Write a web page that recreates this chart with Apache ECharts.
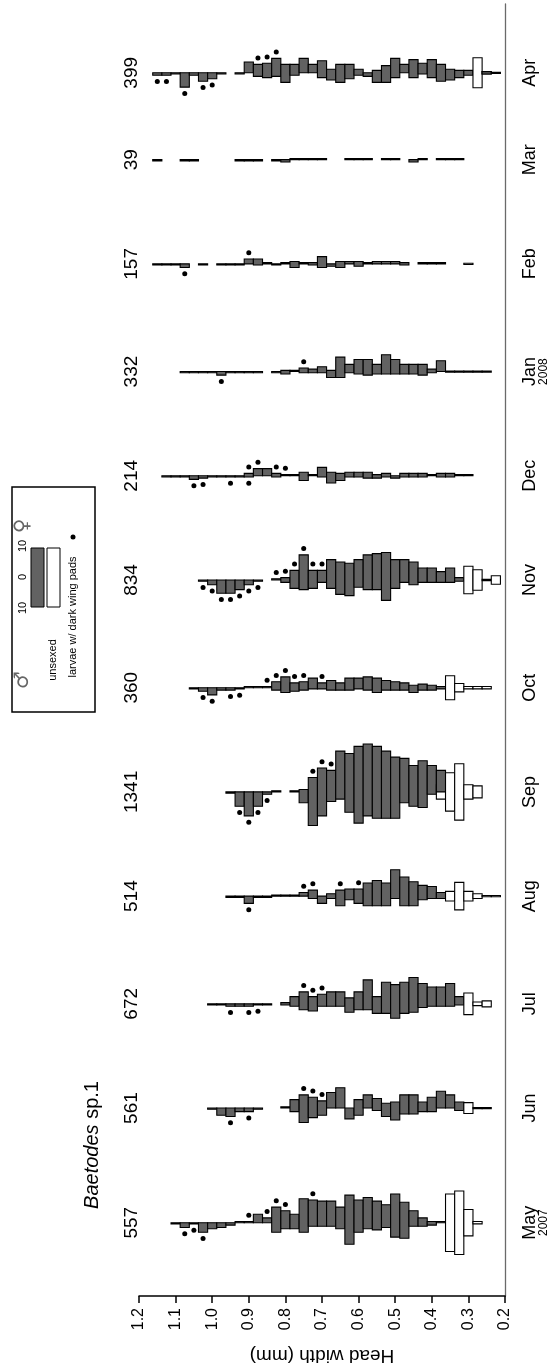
<!DOCTYPE html>
<html><head><meta charset="utf-8">
<script src="https://cdn.jsdelivr.net/npm/echarts@6/dist/echarts.min.js"></script>
<style>html,body{margin:0;padding:0;background:#fff}#c{width:552px;height:1370px}</style>
</head><body><div id="c"></div>
<script>
// ---------- DATA ----------
const months = ['May','Jun','Jul','Aug','Sep','Oct','Nov','Dec','Jan','Feb','Mar','Apr'];
const monthYears = ['2007','','','','','','','','2008','','',''];
const sampleDay = [0,33,63,94,124,154,185,215,245,276,306,331];
const sampleN = [557,561,672,514,1341,360,834,214,332,157,39,399];
const headWidthTicks = [1.2,1.1,1.0,0.9,0.8,0.7,0.6,0.5,0.4,0.3,0.2];
// bin centres (mm), 0.025 mm wide
const headWidthBins = [1.15,1.125,1.1,1.075,1.05,1.025,1.0,0.975,0.95,0.925,
  0.9,0.875,0.85,0.825,0.8,0.775,0.75,0.725,0.7,0.675,
  0.65,0.625,0.6,0.575,0.55,0.525,0.5,0.475,0.45,0.425,
  0.4,0.375,0.35,0.325,0.3,0.275,0.25,0.225];

const mayFemale  = [0,0,0,0,0,0,0,0,0,1, 1,7,4,13,10,7,20,19,18,18, 13,23,19,21,18,15,24,17,10,4, 1,1,0,0,0,0,0,0];
const mayMale    = [0,0,1,4,1,8,5,4,2,0, 0,0,0,8,5,5,8,3,3,3, 5,18,8,5,6,4,12,13,3,3, 2,0,0,0,0,0,0,0];
const mayUnsexed = [0,0,0,0,0,0,0,0,0,0, 0,0,0,0,0,0,0,0,0,0, 0,0,0,0,0,0,0,0,0,0, 0,0,48,53,22,2,0,0];
const mayDotsF = [0.9,0.85,0.825,0.8,0.725];
const mayDotsM = [1.075,1.05,1.025];

const junFemale  = [0,0,0,0,0,0,0,0,0,0, 0,0,0,0,1,7,11,9,6,13, 17,0,7,11,8,4,5,11,11,5, 9,14,11,5,0,0,0,0];
const junMale    = [0,0,0,0,0,0,1,6,7,3, 3,1,0,0,0,3,12,8,6,0, 0,9,6,0,2,7,10,5,5,3, 3,0,0,2,0,0,0,0];
const junUnsexed = [0,0,0,0,0,0,0,0,0,0, 0,0,0,0,0,0,0,0,0,0, 0,0,0,0,0,0,0,0,0,0, 0,0,0,0,9,1,1,0];
const junDotsF = [0.75,0.725,0.7];
const junDotsM = [0.95,0.9];

const julFemale  = [0,0,0,0,0,0,0,0,0,0, 0,0,0,0,1,6,10,6,8,10, 10,5,10,20,6,18,16,18,22,17, 14,14,17,6,0,0,0,0];
const julMale    = [0,0,0,0,0,0,1,1,2,2, 2,1,1,0,1,2,5,6,2,2, 2,7,5,5,8,8,12,8,7,3, 2,2,2,1,0,0,0,0];
const julUnsexed = [0,0,0,0,0,0,0,0,0,0, 0,0,0,0,0,0,0,0,0,0, 0,0,0,0,0,0,0,0,0,0, 0,0,0,0,18,3,5,0];
const julDotsF = [0.75,0.725,0.7];
const julDotsM = [0.95,0.9,0.875];

const augFemale  = [0,0,0,0,0,0,0,0,0,0, 0,0,0,1,1,1,3,5,0,2, 5,6,6,11,13,11,22,16,12,9, 8,3,0,0,0,0,0,0];
const augMale    = [0,0,0,0,0,0,0,0,1,1, 6,1,1,0,0,0,0,2,6,2, 8,3,6,8,8,8,2,8,8,3, 2,2,0,0,0,0,0,0];
const augUnsexed = [0,0,0,0,0,0,0,0,0,0, 0,0,0,0,0,0,0,0,0,0, 0,0,0,0,0,0,0,0,0,0, 0,0,8,23,8,4,1,1];
const augDotsF = [0.75,0.725,0.65,0.6];
const augDotsM = [0.9];

const sepFemale  = [0,0,0,0,0,0,0,0,0,0, 0,0,0,1,0,1,2,12,20,18, 34,32,38,40,38,34,29,28,22,26, 22,18,0,0,0,0,0,0];
const sepMale    = [0,0,0,0,0,0,0,0,1,12, 20,12,2,0,0,0,9,28,20,8, 6,17,26,20,22,22,22,9,12,13, 2,0,0,0,0,0,0,0];
const sepUnsexed = [0,0,0,0,0,0,0,0,0,0, 0,0,0,0,0,0,0,0,0,0, 0,0,0,0,0,0,0,0,0,0, 0,12,32,47,12,10,0,0];
const sepDotsF = [0.725,0.7,0.675];
const sepDotsM = [0.925,0.9,0.875,0.85];

const octFemale  = [0,0,0,0,0,0,0,0,0,0, 1,1,1,5,9,4,5,8,4,6, 4,8,8,9,8,6,5,4,2,3, 2,1,0,0,0,0,0,0];
const octMale    = [0,0,0,0,1,3,6,2,2,1, 0,0,0,2,4,3,2,1,1,2, 2,2,1,2,4,2,2,2,4,2, 2,1,0,0,0,0,0,0];
const octUnsexed = [0,0,0,0,0,0,0,0,0,0, 0,0,0,0,0,0,0,0,0,0, 0,0,0,0,0,0,0,0,0,0, 0,0,20,7,2,2,2,0];
const octDotsF = [0.85,0.825,0.8,0.775,0.75,0.7];
const octDotsM = [1.025,1.0,0.95,0.925];

const novFemale  = [0,0,0,0,0,0,0,0,0,0, 0,0,0,1,2,8,21,8,8,17, 15,14,17,21,22,23,17,17,15,10, 10,7,10,2,0,0,0,0];
const novMale    = [0,0,0,0,0,1,4,11,11,8, 4,1,0,0,2,7,8,7,2,7, 12,13,6,8,8,17,7,2,4,2, 2,2,2,1,0,0,0,0];
const novUnsexed = [0,0,0,0,0,0,0,0,0,0, 0,0,0,0,0,0,0,0,0,0, 0,0,0,0,0,0,0,0,0,0, 0,0,0,0,23,17,1,7];
const novDotsF = [0.825,0.8,0.775,0.75,0.725,0.7];
const novDotsM = [1.025,1.0,0.975,0.95,0.925,0.9,0.875];

const decFemale  = [0,0,0,0,0,0,0,0,0,0, 2,6,6,2,1,1,3,1,7,3, 2,3,3,3,1,2,0,2,2,2, 1,2,2,1,1,0,0,0];
const decMale    = [0,1,1,1,3,2,1,1,1,1, 1,0,0,1,0,0,4,0,1,6, 4,1,1,2,2,1,2,1,1,1, 0,1,1,0,0,0,0,0];
const decUnsexed = [0,0,0,0,0,0,0,0,0,0, 0,0,0,0,0,0,0,0,0,0, 0,0,0,0,0,0,0,0,0,0, 0,0,0,0,0,0,0,0];
const decDotsF = [0.9,0.875,0.825,0.8];
const decDotsM = [1.05,1.025,0.95,0.9];

const janFemale  = [0,0,0,0,0,0,0,0,0,0, 0,0,0,0,1,1,3,2,4,1, 12,6,10,10,6,14,10,6,6,6, 2,9,0,0,0,0,0,0];
const janMale    = [0,0,0,1,1,1,1,3,1,1, 1,1,0,1,2,0,1,1,1,5, 5,1,2,3,2,2,2,2,2,3, 1,0,0,0,0,0,0,0];
const janUnsexed = [0,0,0,0,0,0,0,0,0,0, 0,0,0,0,0,0,0,0,0,0, 0,0,0,0,0,0,0,0,0,0, 0,0,1,1,1,1,1,0];
const janDotsF = [0.75];
const janDotsM = [0.975];

const febFemale  = [0,0,0,0,0,0,0,0,0,0, 4,4,1,0,1,2,1,1,6,0, 2,2,2,1,2,2,2,1,0,1, 1,1,0,0,0,0,0,0];
const febMale    = [1,1,1,3,0,1,0,1,1,1, 0,1,0,1,0,3,0,1,3,2, 3,0,2,0,0,0,0,1,0,0, 0,0,0,0,0,0,0,0];
const febUnsexed = [0,0,0,0,0,0,0,0,0,0, 0,0,0,0,0,0,0,0,0,0, 0,0,0,0,0,0,0,0,0,0, 0,0,0,0,1,0,0,0];
const febDotsF = [0.9];
const febDotsM = [1.075];

const marFemale  = [0,0,0,0,0,0,0,0,0,0, 0,0,0,0,0,1,1,1,1,0, 0,1,1,1,0,1,1,0,0,1, 0,1,1,1,0,0,0,0];
const marMale    = [1,0,0,1,1,0,0,0,0,1, 1,1,0,1,2,0,0,0,0,0, 0,0,0,0,0,0,0,0,2,0, 0,0,0,0,0,0,0,0];
const marUnsexed = [0,0,0,0,0,0,0,0,0,0, 0,0,0,0,0,0,0,0,0,0, 0,0,0,0,0,0,0,0,0,0, 0,0,0,0,0,0,0,0];
const marDotsF = [];
const marDotsM = [];

const aprFemale  = [0,0,0,0,0,0,0,0,0,0, 9,7,8,12,7,7,12,7,10,3, 7,7,3,0,2,6,12,7,11,8, 11,7,3,2,2,0,1,0];
const aprMale    = [2,2,1,12,2,7,5,1,0,1, 0,3,4,3,8,2,0,0,4,6, 8,5,2,3,8,8,4,0,4,1, 4,7,6,4,2,0,1,0];
const aprUnsexed = [0,0,0,0,0,0,0,0,0,0, 0,0,0,0,0,0,0,0,0,0, 0,0,0,0,0,0,0,0,0,0, 0,0,0,0,0,25,2,1];
const aprDotsF = [0.875,0.85,0.825];
const aprDotsM = [1.15,1.125,1.075,1.025,1.0];

// ---------- ASSEMBLY ----------
const femaleByMonth  = [mayFemale,junFemale,julFemale,augFemale,sepFemale,octFemale,novFemale,decFemale,janFemale,febFemale,marFemale,aprFemale];
const maleByMonth    = [mayMale,junMale,julMale,augMale,sepMale,octMale,novMale,decMale,janMale,febMale,marMale,aprMale];
const unsexedByMonth = [mayUnsexed,junUnsexed,julUnsexed,augUnsexed,sepUnsexed,octUnsexed,novUnsexed,decUnsexed,janUnsexed,febUnsexed,marUnsexed,aprUnsexed];
const dotsFByMonth = [mayDotsF,junDotsF,julDotsF,augDotsF,sepDotsF,octDotsF,novDotsF,decDotsF,janDotsF,febDotsF,marDotsF,aprDotsF];
const dotsMByMonth = [mayDotsM,junDotsM,julDotsM,augDotsM,sepDotsM,octDotsM,novDotsM,decDotsM,janDotsM,febDotsM,marDotsM,aprDotsM];

const BIN_WIDTH = 0.025;
const INDIVIDUAL_DAYS = 0.345;   // frequency scale expressed in time-axis units
const DOT_GAP = 6.3;
const FONT = 'Liberation Sans';
const GRAY = '#626262';

const barData = [], dotData = [], labelData = [];
months.forEach((m, mi) => {
  const day = sampleDay[mi];
  headWidthBins.forEach((hw, bi) => {
    const f = femaleByMonth[mi][bi], ma = maleByMonth[mi][bi], u = unsexedByMonth[mi][bi];
    if (f + ma + u > 0) barData.push([hw, day, f, ma, u]);
  });
  const idx = hw => headWidthBins.findIndex(b => Math.abs(b - hw) < 1e-6);
  dotsFByMonth[mi].forEach(hw => { const bi = idx(hw); dotData.push([hw, day, 1, femaleByMonth[mi][bi], maleByMonth[mi][bi]]); });
  dotsMByMonth[mi].forEach(hw => { const bi = idx(hw); dotData.push([hw, day, -1, femaleByMonth[mi][bi], maleByMonth[mi][bi]]); });
  labelData.push([day, sampleN[mi], m, monthYears[mi]]);
});

function unitPx(api) { return api.size([0, 1])[1] * INDIVIDUAL_DAYS; }

function renderBar(params, api) {
  const hw = api.value(0), day = api.value(1), f = api.value(2), ma = api.value(3), u = api.value(4);
  const c = api.coord([hw, day]);
  const w = api.size([BIN_WIDTH, 0])[0];
  const k = unitPx(api);
  const children = [];
  if (u > 0) children.push({type:'rect', shape:{x:c[0]-w/2, y:c[1]-u*k/2, width:w, height:u*k},
    style:{fill:'#fff', stroke:'#000', lineWidth:1.1}});
  if (f + ma > 0) children.push({type:'rect', shape:{x:c[0]-w/2, y:c[1]-f*k, width:w, height:(f+ma)*k},
    style:{fill:GRAY, stroke:'#000', lineWidth:1.1}});
  return {type:'group', children};
}
function renderDot(params, api) {
  const hw = api.value(0), day = api.value(1), side = api.value(2), f = api.value(3), ma = api.value(4);
  const c = api.coord([hw, day]);
  const k = unitPx(api);
  const y = side > 0 ? c[1] - f*k - DOT_GAP : c[1] + ma*k + DOT_GAP;
  return {type:'circle', shape:{cx:c[0], cy:y, r:2.5}, style:{fill:'#000'}};
}
function txt(x, y, text, size, extra) {
  return Object.assign({type:'text', x:x, y:y, rotation:Math.PI/2,
    style:{text:text, fontSize:size, fontFamily:FONT, fill:'#000', align:'center', verticalAlign:'middle'}}, extra || {});
}
function renderLabels(params, api) {
  const day = api.value(0);
  const n = labelData[params.dataIndex];
  const cN = api.coord([1.2205, day]);
  const cM = api.coord([0.131, day]);
  const cY = api.coord([0.093, day]);
  const ch = [txt(cN[0], cN[1], String(n[1]), 19), txt(cM[0], cM[1], n[2], 18)];
  if (n[3]) ch.push(txt(cY[0], cY[1], n[3], 12));
  return {type:'group', children: ch};
}
function lt(x, y, text, size, family, color) {
  return {type:'text', x:x, y:y, rotation:Math.PI/2,
    style:{text:text, fontSize:size, fontFamily:family || FONT, fill:color || '#000', align:'center', verticalAlign:'middle'}};
}

const chart = echarts.init(document.getElementById('c'), null, {renderer:'canvas'});
chart.setOption({
  animation:false,
  backgroundColor:'#fff',
  grid:{left:139, right:47, top:4, bottom:74, containLabel:false},
  xAxis:{type:'value', min:0.2, max:1.2, interval:0.1, inverse:true, position:'bottom',
    axisLine:{show:true, onZero:false, lineStyle:{color:'#000', width:1.5}},
    axisTick:{show:true, inside:false, length:7, lineStyle:{color:'#000', width:1.5}},
    axisLabel:{rotate:90, margin:12, fontSize:16, fontFamily:FONT, color:'#000',
      formatter: v => headWidthTicks.find(t => Math.abs(t - v) < 1e-6).toFixed(1)},
    splitLine:{show:false},
    name:'Head width (mm)', nameLocation:'middle', nameGap:50, nameRotate:180,
    nameTextStyle:{fontSize:19, fontFamily:FONT, color:'#000'}},
  yAxis:{type:'value', min:-21.1, max:350.8, position:'right',
    axisLine:{show:true, onZero:false, lineStyle:{color:'#6a6a6a', width:1.3}},
    axisTick:{show:false}, axisLabel:{show:false}, splitLine:{show:false}},
  graphic:[
    {type:'text', x:92, y:1145, rotation:Math.PI/2,
      style:{text:'{i|Baetodes} sp.1', fontSize:20, fontFamily:FONT, fill:'#000', align:'center', verticalAlign:'middle',
        rich:{i:{fontStyle:'italic', fontSize:20, fontFamily:FONT}}}},
    {type:'group', children:[
      {type:'rect', shape:{x:12, y:487, width:83, height:225}, style:{fill:'#fff', stroke:'#000', lineWidth:1.5}},
      lt(23, 526, '\u2640', 20, 'DejaVu Sans', '#666'),
      lt(23, 546, '10', 11),
      lt(23, 577, '0', 11),
      lt(23, 608, '10', 11),
      lt(23, 680, '\u2642', 20, 'DejaVu Sans', '#666'),
      {type:'rect', shape:{x:31, y:548, width:13, height:59}, style:{fill:GRAY, stroke:'#000', lineWidth:1}},
      {type:'rect', shape:{x:47, y:548, width:13, height:59}, style:{fill:'#fff', stroke:'#000', lineWidth:1}},
      lt(53, 660, 'unsexed', 11),
      lt(73, 617, 'larvae w/ dark wing pads', 11),
      {type:'circle', shape:{cx:73, cy:537, r:2.5}, style:{fill:'#000'}}
    ]}
  ],
  series:[
    {type:'custom', name:'bars', renderItem:renderBar, data:barData, clip:false, z:2},
    {type:'custom', name:'dots', renderItem:renderDot, data:dotData, clip:false, z:3},
    {type:'custom', name:'labels', renderItem:renderLabels, data:labelData.map(d => [d[0], d[1]]), clip:false, z:4,
      encode:{x:-1, y:0}}
  ]
});
</script></body></html>
